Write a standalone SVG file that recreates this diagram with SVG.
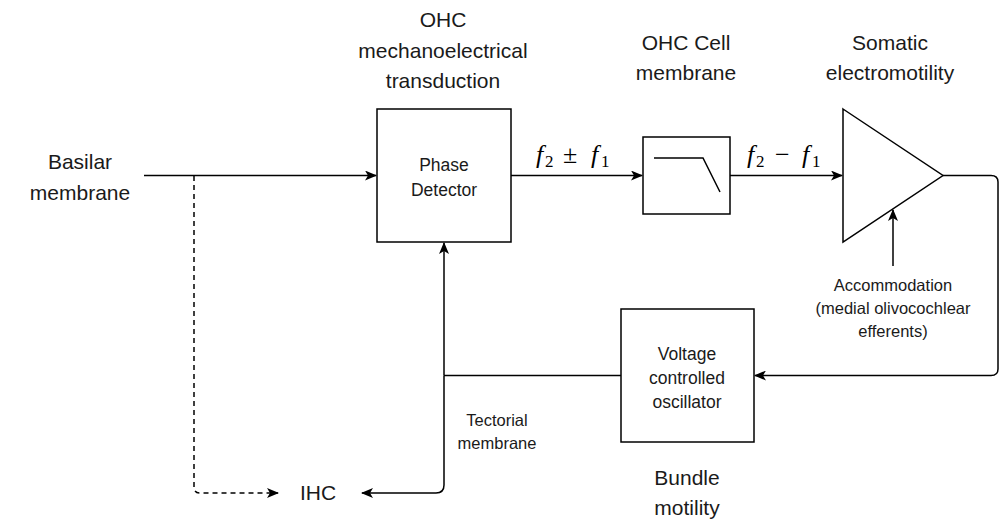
<svg xmlns="http://www.w3.org/2000/svg" width="1001" height="519" viewBox="0 0 1001 519">
<style>
.box{fill:#fff;stroke:#000;stroke-width:1.5}
.ln{fill:none;stroke:#000;stroke-width:1.5}
.dash{stroke-dasharray:5 4}
.t20{font-family:"Liberation Sans",Arial,sans-serif;font-size:21px;fill:#1a1a1a;text-anchor:middle}
.t15{font-family:"Liberation Sans",Arial,sans-serif;font-size:16.5px;fill:#1a1a1a;text-anchor:middle}
.t17{font-family:"Liberation Sans",Arial,sans-serif;font-size:17.5px;fill:#1a1a1a;text-anchor:middle}
.m{font-family:"Liberation Serif","Times New Roman",serif;font-size:26px;fill:#000}
.mi{font-style:italic}
.sub{font-size:17px}
</style>
<defs>
<marker id="ar" viewBox="0 0 12 10" refX="11" refY="5" markerWidth="12" markerHeight="10" markerUnits="userSpaceOnUse" orient="auto">
<path d="M0,0 L12,5 L0,10 L3,5 Z" fill="#000"/>
</marker>
</defs>
<rect width="1001" height="519" fill="#fff"/>
<g id="connectors">
<path class="ln" d="M144,175.5 H376" marker-end="url(#ar)"/>
<path class="ln dash" d="M194,176 V487 Q194,493 200,493 H278" marker-end="url(#ar)"/>
<path class="ln" d="M511,175.5 H642" marker-end="url(#ar)"/>
<path class="ln" d="M730,175.5 H842" marker-end="url(#ar)"/>
<path class="ln" d="M943,175.5 H991 Q998,175.5 998,182 V369 Q998,375.5 991,375.5 H755" marker-end="url(#ar)"/>
<path class="ln" d="M621,375.5 H444"/>
<path class="ln" d="M444,375.5 V243" marker-end="url(#ar)"/>
<path class="ln" d="M444,375.5 V485 Q444,493 436,493 H362" marker-end="url(#ar)"/>
<path class="ln" d="M893,266 V210" marker-end="url(#ar)"/>
</g>
<g id="basilar"><text class="t20" x="80" y="169">Basilar</text><text class="t20" x="80" y="200">membrane</text></g>
<g id="title-ohc"><text class="t20" x="443" y="27">OHC</text><text class="t20" x="443" y="58">mechanoelectrical</text><text class="t20" x="443" y="88">transduction</text></g>
<g id="title-cell"><text class="t20" x="686" y="50">OHC Cell</text><text class="t20" x="686" y="80">membrane</text></g>
<g id="title-somatic"><text class="t20" x="890" y="50">Somatic</text><text class="t20" x="890" y="80">electromotility</text></g>
<g id="phase-detector"><rect class="box" x="377" y="109" width="134" height="133"/><text class="t17" x="444" y="171">Phase</text><text class="t17" x="444" y="196">Detector</text></g>
<g id="label-sum"><text class="m mi" x="536" y="163">f</text><text class="m sub" x="545" y="167">2</text><text class="m" x="563" y="163">±</text><text class="m mi" x="591" y="163">f</text><text class="m sub" x="601" y="167">1</text></g>
<g id="filter"><rect class="box" x="643" y="137" width="87" height="77"/><path class="ln" d="M654,158 H703 L720,192"/></g>
<g id="label-diff"><text class="m mi" x="747" y="163">f</text><text class="m sub" x="756" y="167">2</text><text class="m" x="775" y="163">−</text><text class="m mi" x="802" y="163">f</text><text class="m sub" x="812" y="167">1</text></g>
<g id="amplifier"><path class="box" d="M843,109 L943,175.5 L843,242 Z"/></g>
<g id="accommodation"><text class="t15" x="893" y="291">Accommodation</text><text class="t15" x="893" y="314">(medial olivocochlear</text><text class="t15" x="893" y="337">efferents)</text></g>
<g id="vco"><rect class="box" x="621" y="309" width="133" height="133"/><text class="t17" x="687" y="360">Voltage</text><text class="t17" x="687" y="384">controlled</text><text class="t17" x="687" y="408">oscillator</text></g>
<g id="bundle"><text class="t20" x="687" y="485">Bundle</text><text class="t20" x="687" y="515">motility</text></g>
<g id="tectorial"><text class="t15" x="497" y="426">Tectorial</text><text class="t15" x="497" y="449">membrane</text></g>
<g id="ihc"><text class="t20" x="318" y="500">IHC</text></g>
</svg>
